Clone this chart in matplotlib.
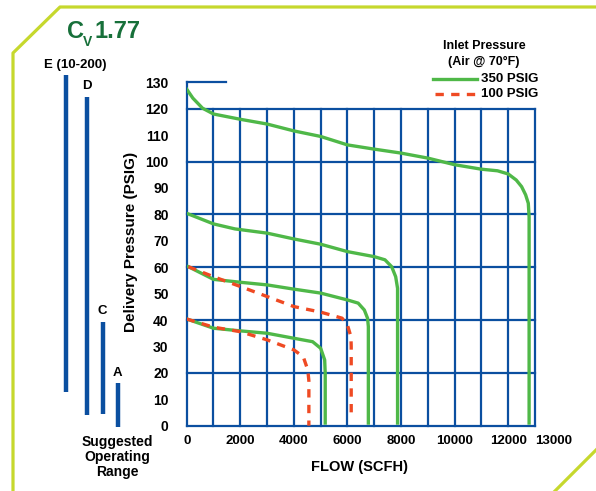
import matplotlib.pyplot as plt
from matplotlib.lines import Line2D

plt.rcParams['font.family'] = ['Liberation Sans', 'DejaVu Sans']
plt.rcParams['font.weight'] = 'bold'
plt.rcParams['axes.labelweight'] = 'bold'

BLUE = '#0b4fa0'
GREEN = '#4fb848'
RED = '#ef4a23'
DARKGREEN = '#17703a'
LIME = '#c6d82d'

# 350 PSIG inlet curves (flow SCFH, delivery PSIG)
g1_x = [0, 230, 590, 1000, 2000, 3000, 4000, 5000, 6000, 7000, 8000, 9000, 10000,
        11000, 11600, 12000, 12300, 12500, 12650, 12750, 12780, 12780]
g1_y = [127.4, 124, 120.2, 118, 116, 114.2, 111.6, 109.5, 106.3, 104.7, 103.2, 101.3, 98.8,
        97.1, 96.5, 95.3, 93, 90.5, 87.4, 84.2, 79, 1]
g2_x = [0, 1000, 1800, 3000, 4000, 5000, 6000, 7000, 7400, 7650, 7800, 7870, 7870]
g2_y = [80.4, 76.4, 74.5, 72.9, 70.7, 68.7, 65.9, 64, 62.8, 60.2, 56.4, 52, 1]
g3_x = [60, 1000, 2000, 3000, 4000, 5000, 6000, 6400, 6630, 6750, 6780, 6780]
g3_y = [60.2, 55.4, 54.3, 53.3, 51.7, 50.2, 47.6, 46.4, 43.8, 40.7, 37.5, 1]
g4_x = [0, 1000, 2000, 3000, 4000, 4700, 5000, 5150, 5170, 5170]
g4_y = [40.4, 36.9, 35.9, 35, 33.1, 31.8, 29.3, 24.9, 19.8, 1]

# 100 PSIG inlet curves
r1_x = [60, 1000, 2000, 3000, 4000, 5000, 5800, 6000, 6130, 6140, 6140]
r1_y = [60.2, 56.4, 52.7, 48.9, 45.1, 43, 40.7, 38.1, 33.7, 30, 3.4]
r2_x = [0, 1000, 2000, 3000, 4000, 4350, 4520, 4560, 4560]
r2_y = [40.4, 37.3, 35.6, 32.5, 28.7, 26.1, 21.1, 17, 0]

x_ticks = [0, 2000, 4000, 6000, 8000, 10000, 12000, 13000]
y_ticks = list(range(0, 131, 10))
grid_x = list(range(0, 13001, 1000))
grid_y = list(range(0, 121, 20))

# suggested operating range bars (drawn on the page overlay)
range_names = ['E (10-200)', 'D', 'C', 'A']
range_top = [75, 97, 322, 383]
range_bottom = [392, 415, 414, 427]

fig = plt.figure(figsize=(5.96, 4.91), dpi=100)

# page overlay in pixel units
bg = fig.add_axes([0, 0, 1, 1])
bg.set_xlim(0, 596)
bg.set_ylim(491, 0)
bg.axis('off')
bg.plot([13, 13, 60, 596], [491, 53, 7, 7], color=LIME, lw=2.3, solid_capstyle='butt')
bg.plot([555, 596], [491, 450], color=LIME, lw=2.3)

bar_x = [66, 87, 102.5, 117.5]
label_y = [65, 86, 311, 373]
for name, bx, top, bot, ly in zip(range_names, bar_x, range_top, range_bottom, label_y):
    bg.plot([bx, bx], [top, bot], color=BLUE, lw=3.2, solid_capstyle='butt')
    lx = 75 if name.startswith('E') else bx
    bg.text(lx, ly, name, ha='center', va='center', fontsize=9.5)
bg.text(117, 457, 'Suggested\nOperating\nRange', ha='center', va='center',
        fontsize=10, linespacing=1.05)

# title
bg.text(67, 38, 'C', color=DARKGREEN, fontsize=17, ha='left', va='baseline')
bg.text(83, 46, 'V', color=DARKGREEN, fontsize=10, ha='left', va='baseline')
bg.text(95, 38, '1.77', color=DARKGREEN, fontsize=17, ha='left', va='baseline')

# legend
bg.text(484, 46, 'Inlet Pressure', ha='center', va='center', fontsize=9)
bg.text(484, 62, '(Air @ 70\u00b0F)', ha='center', va='center', fontsize=9)
bg.add_line(Line2D([433, 477], [79, 79], color=GREEN, lw=2.4))
bg.add_line(Line2D([435, 477], [94, 94], color=RED, lw=2.4, linestyle=(0, (2.5, 2.2))))
bg.text(481, 79, '350 PSIG', ha='left', va='center', fontsize=9.5)
bg.text(481, 94, '100 PSIG', ha='left', va='center', fontsize=9.5)

# chart
ax = fig.add_axes([186.7 / 596, 1 - 425.7 / 491, (535 - 186.7) / 596, (425.7 - 82.3) / 491])
ax.set_xlim(0, 13000)
ax.set_ylim(0, 130)
for s in ax.spines.values():
    s.set_visible(False)
ax.patch.set_alpha(0)

for gx in grid_x:
    ax.plot([gx, gx], [0, 130 if gx == 0 else 120], color=BLUE, lw=1.6, clip_on=False, zorder=1)
for gy in grid_y:
    ax.plot([0, 13000], [gy, gy], color=BLUE, lw=1.6, clip_on=False, zorder=1)
ax.plot([0, 1450], [130, 130], color=BLUE, lw=1.6, clip_on=False, zorder=1)

for xs, ys in [(g1_x, g1_y), (g2_x, g2_y), (g3_x, g3_y), (g4_x, g4_y)]:
    ax.plot(xs, ys, color=GREEN, lw=2.4, zorder=3, solid_joinstyle='round')
for xs, ys in [(r1_x, r1_y), (r2_x, r2_y)]:
    ax.plot(xs, ys, color=RED, lw=2.4, linestyle=(0, (2.5, 2.2)), zorder=4)

ax.set_xticks(x_ticks)
ax.set_xticklabels([str(v) for v in x_ticks], fontsize=9.5)
ax.get_xticklabels()[-1].set_horizontalalignment('left')
ax.set_yticks(y_ticks)
ax.set_yticklabels([str(v) for v in y_ticks], fontsize=10)
ax.tick_params(axis='x', length=0, pad=7)
ax.tick_params(axis='y', length=0, pad=13)

ax.set_xlabel('FLOW (SCFH)', fontsize=10.5)
ax.xaxis.set_label_coords(0.495, -0.1)
ax.set_ylabel('Delivery Pressure (PSIG)', fontsize=11)
ax.yaxis.set_label_coords(-0.14, 0.535)

fig.savefig('out.png', dpi=100)
plt.close()
